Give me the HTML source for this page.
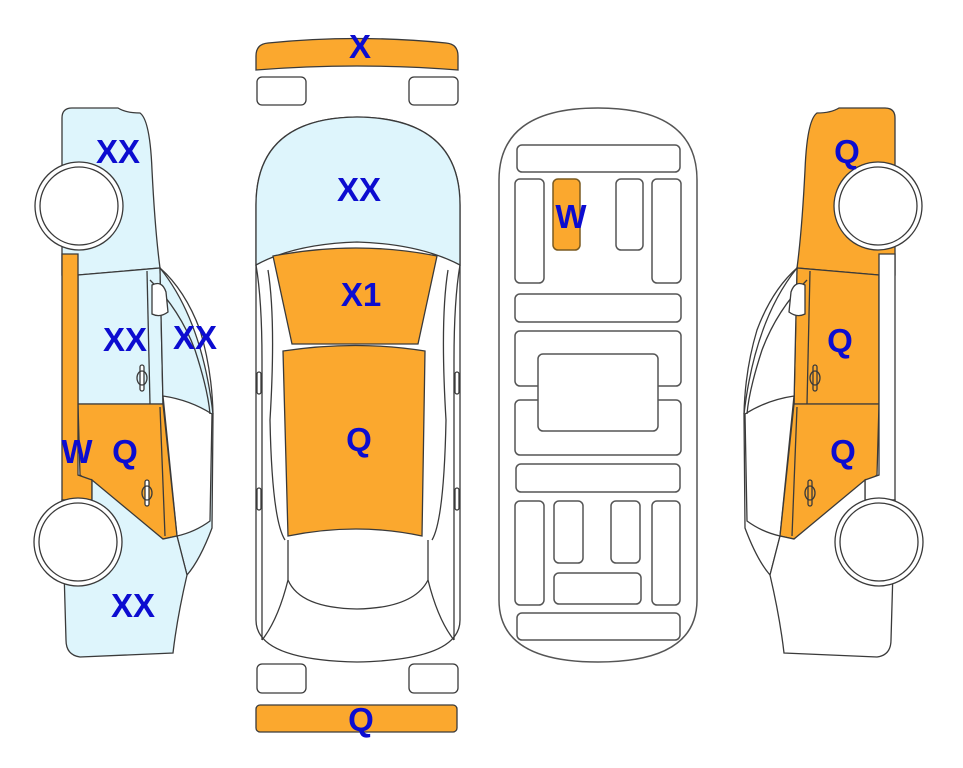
<!DOCTYPE html>
<html><head><meta charset="utf-8"><style>
html,body{margin:0;padding:0;background:#fff;}
svg{display:block;}
text{font-family:"Liberation Sans",Arial,sans-serif;font-weight:bold;font-size:33px;fill:#0c0cd0;text-anchor:middle;}
</style></head><body>
<svg width="963" height="768" viewBox="0 0 963 768" xmlns="http://www.w3.org/2000/svg">
<defs>
<style>.s{stroke:#444;stroke-width:1.3;fill:none;}.o{fill:#fba82e;}.b{fill:#def5fc;}.w{fill:#fff;}</style>
</defs>

<!-- LEFT SIDE VIEW -->
<g stroke="#3a3a3a" stroke-width="1.3">
  <path class="b" d="M62,118 Q62,108 72,108 L118,108 Q126,113 140,113 Q150,120 152,170 Q155,230 160,268 L78,275 L62,275 Z"/>
  <path class="b" d="M78,275 L160,268 L163,404 L78,404 Z"/>
  <path class="b" d="M160,268 Q202,320 213,414 L212,528 Q200,560 187,575 L177,536 L163,404 Z"/>
  <path class="w" d="M163,396 Q190,400 212,414 L210,521 Q195,532 177,536 Z"/>
  <path class="o" d="M78,404 L163,404 L177,536 L163,539 L80,475 Z"/>
  <path class="o" d="M62,254 L78,254 L78,475 L92,480 L92,500 L62,500 Z"/>
  <path class="b" d="M62,500 L92,500 L92,480 L163,539 L177,536 L187,575 Q177,618 173,653 L80,657 Q66,655 66,640 Z"/>
  <path fill="none" d="M160,268 Q185,290 200,330 Q212,370 213,414"/>
  <path fill="none" d="M150,280 Q180,310 195,350 Q208,390 210,414"/>
  <path fill="none" d="M147,271 L150,404"/>
  <path fill="none" d="M160,407 L165,536"/>
  <path class="w" d="M152,285 Q162,280 166,292 L168,312 Q160,318 152,314 Z"/>
  <rect class="w" x="140" y="365" width="4" height="26" rx="2"/>
  <ellipse fill="none" cx="142" cy="378" rx="5" ry="7"/>
  <rect class="w" x="145" y="480" width="4" height="26" rx="2"/>
  <ellipse fill="none" cx="147" cy="493" rx="5" ry="7"/>
  <circle class="w" cx="79" cy="206" r="44"/>
  <circle fill="none" cx="79" cy="206" r="39"/>
  <circle class="w" cx="78" cy="542" r="44"/>
  <circle fill="none" cx="78" cy="542" r="39"/>
</g>
<text x="118" y="163">XX</text>
<text x="125" y="351">XX</text>
<text x="195" y="349">XX</text>
<text x="133" y="617">XX</text>
<text x="77" y="463">W</text>
<text x="125" y="463">Q</text>

<!-- RIGHT SIDE VIEW (mirrored) -->
<g transform="translate(957,0) scale(-1,1)" stroke="#3a3a3a" stroke-width="1.3">
  <path class="o" d="M62,118 Q62,108 72,108 L118,108 Q126,113 140,113 Q150,120 152,170 Q155,230 160,268 L78,275 L62,275 Z"/>
  <path class="o" d="M78,275 L160,268 L163,404 L78,404 Z"/>
  <path class="w" d="M160,268 Q202,320 213,414 L212,528 Q200,560 187,575 L177,536 L163,404 Z"/>
  <path class="w" d="M163,396 Q190,400 212,414 L210,521 Q195,532 177,536 Z"/>
  <path class="o" d="M78,404 L163,404 L177,536 L163,539 L80,475 Z"/>
  <path class="w" d="M62,254 L78,254 L78,475 L92,480 L92,500 L62,500 Z"/>
  <path class="w" d="M62,500 L92,500 L92,480 L163,539 L177,536 L187,575 Q177,618 173,653 L80,657 Q66,655 66,640 Z"/>
  <path fill="none" d="M160,268 Q185,290 200,330 Q212,370 213,414"/>
  <path fill="none" d="M150,280 Q180,310 195,350 Q208,390 210,414"/>
  <path fill="none" d="M147,271 L150,404"/>
  <path fill="none" d="M160,407 L165,536"/>
  <path class="w" d="M152,285 Q162,280 166,292 L168,312 Q160,318 152,314 Z"/>
  <rect class="o" x="140" y="365" width="4" height="26" rx="2"/>
  <ellipse fill="none" cx="142" cy="378" rx="5" ry="7"/>
  <rect class="o" x="145" y="480" width="4" height="26" rx="2"/>
  <ellipse fill="none" cx="147" cy="493" rx="5" ry="7"/>
  <circle class="w" cx="79" cy="206" r="44"/>
  <circle fill="none" cx="79" cy="206" r="39"/>
  <circle class="w" cx="78" cy="542" r="44"/>
  <circle fill="none" cx="78" cy="542" r="39"/>
</g>
<text x="847" y="163">Q</text>
<text x="840" y="352">Q</text>
<text x="843" y="463">Q</text>

<!-- TOP VIEW -->
<g stroke="#3a3a3a" stroke-width="1.3">
  <path class="o" d="M256,56 Q256,44 268,43 Q357,34 446,43 Q458,44 458,56 L458,70 Q357,62 256,70 Z"/>
  <rect class="w" x="257" y="77" width="49" height="28" rx="5"/>
  <rect class="w" x="409" y="77" width="49" height="28" rx="5"/>
  <path class="w" d="M256,205 Q256,118 357,117 Q460,118 460,205 L460,620 Q460,660 357,662 Q256,660 256,620 Z"/>
  <path class="b" d="M256,205 Q256,118 357,117 Q460,118 460,205 L460,265 Q420,244 357,242 Q294,244 256,265 Z"/>
  <path fill="none" d="M256,265 Q262,300 262,360 L262,640"/>
  <path fill="none" d="M460,265 Q454,300 454,360 L454,640"/>
  <path fill="none" d="M268,270 Q276,320 270,420 Q272,520 285,540"/>
  <path fill="none" d="M448,270 Q440,320 446,420 Q444,520 432,540"/>
  <path fill="none" d="M288,580 Q278,620 262,640"/>
  <path fill="none" d="M428,580 Q438,620 454,640"/>
  <path class="o" d="M273,256 Q357,240 437,256 L418,344 L292,344 Z"/>
  <path class="o" d="M283,351 Q357,340 425,351 L422,536 Q357,522 288,536 Z"/>
  <path fill="none" d="M288,540 L288,580 Q300,608 357,609 Q414,608 428,580 L428,540"/>
  <rect class="w" x="257" y="372" width="4" height="22" rx="2"/>
  <rect class="w" x="257" y="488" width="4" height="22" rx="2"/>
  <rect class="w" x="455" y="372" width="4" height="22" rx="2"/>
  <rect class="w" x="455" y="488" width="4" height="22" rx="2"/>
  <rect class="w" x="257" y="664" width="49" height="29" rx="5"/>
  <rect class="w" x="409" y="664" width="49" height="29" rx="5"/>
  <rect class="o" x="256" y="705" width="201" height="27" rx="4"/>
</g>
<text x="360" y="58">X</text>
<text x="359" y="201">XX</text>
<text x="361" y="306">X1</text>
<text x="359" y="451">Q</text>
<text x="361" y="731">Q</text>

<!-- UNDERSIDE VIEW -->
<g stroke="#555" stroke-width="1.5" fill="#fff">
  <path d="M499,180 Q499,108 598,108 Q697,108 697,180 L697,600 Q697,662 598,662 Q499,662 499,600 Z"/>
  <rect x="517" y="145" width="163" height="27" rx="5"/>
  <rect x="515" y="179" width="29" height="104" rx="5"/>
  <rect x="553" y="179" width="27" height="71" rx="5" fill="#fba82e" stroke="#7a5a20"/>
  <rect x="616" y="179" width="27" height="71" rx="5"/>
  <rect x="652" y="179" width="29" height="104" rx="5"/>
  <rect x="515" y="294" width="166" height="28" rx="5"/>
  <rect x="515" y="331" width="166" height="55" rx="5"/>
  <rect x="515" y="400" width="166" height="55" rx="5"/>
  <rect x="538" y="354" width="120" height="77" rx="5"/>
  <rect x="516" y="464" width="164" height="28" rx="5"/>
  <rect x="515" y="501" width="29" height="104" rx="5"/>
  <rect x="554" y="501" width="29" height="62" rx="5"/>
  <rect x="611" y="501" width="29" height="62" rx="5"/>
  <rect x="652" y="501" width="28" height="104" rx="5"/>
  <rect x="554" y="573" width="87" height="31" rx="5"/>
  <rect x="517" y="613" width="163" height="27" rx="5"/>
</g>
<text x="571" y="228">W</text>
</svg>
</body></html>
